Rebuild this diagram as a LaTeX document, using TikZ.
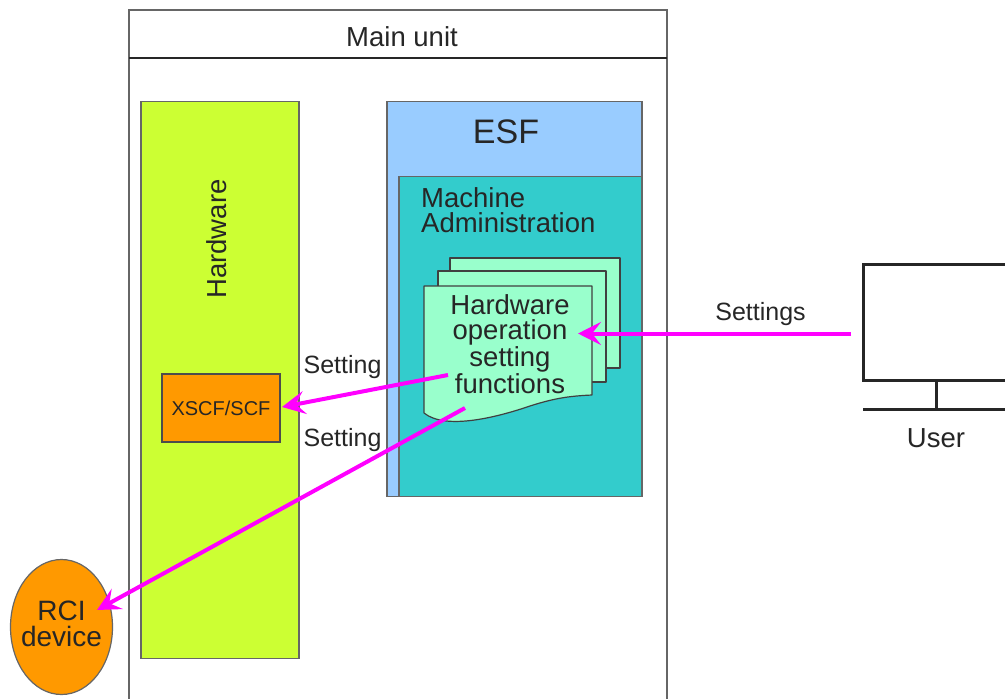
\documentclass[tikz,border=0pt]{standalone}
\usepackage{fontspec}
\setmainfont{Liberation Sans}
\usetikzlibrary{shapes.geometric,arrows.meta}
\definecolor{hwgreen}{HTML}{CCFF33}
\definecolor{esfblue}{HTML}{99CCFF}
\definecolor{mateal}{HTML}{33CCCC}
\definecolor{docmint}{HTML}{99FFCC}
\definecolor{devorange}{HTML}{FF9900}
\definecolor{linegray}{HTML}{666666}
\definecolor{arrowpink}{HTML}{FF00FF}
\tikzset{
  panel/.style={draw=linegray,line width=1.2pt},
  docsheet/.style={draw=black!75,line width=1.2pt,fill=docmint,line join=round},
  pinkarrow/.style={draw=arrowpink,line width=4pt,-{Stealth[length=23pt,width=23pt,inset=9pt]}},
  txt/.style={inner sep=0pt,align=center,text=black!85,font=\fontsize{27.5}{27}\selectfont},
  smalltxt/.style={inner sep=0pt,align=center,text=black!85,font=\fontsize{25}{26}\selectfont},
  monitorline/.style={draw=black!85,line width=3pt},
}
\begin{document}
\begin{tikzpicture}[x=1pt,y=-1pt]
\useasboundingbox (0,0) rectangle (1005,699);
\begin{scope}
\clip (0,0) rectangle (1005,699);
\fill[white] (0,0) rectangle (1005,699);
% main unit
\draw[draw=linegray,line width=2.2pt] (129,720) -- (129,10) -- (667,10) -- (667,720);
\draw[draw=black!85,line width=2.5pt] (129,58) -- (667,58);
\node[txt] (mainlabel) at (402,37) {Main unit};
% hardware
\node[panel,fill=hwgreen,minimum width=158pt,minimum height=557pt,inner sep=0pt] (hw) at (220,380) {};
\node[txt,rotate=90] (hwlabel) at (217,239) {Hardware};
\node[draw=black!70,line width=1.2pt,fill=devorange,minimum width=118pt,minimum height=68pt,inner sep=0pt,text=black!85,font=\fontsize{20}{22}\selectfont] (xscf) at (221,408) {XSCF/SCF};
% ESF
\node[panel,fill=esfblue,minimum width=255pt,minimum height=395pt,inner sep=0pt] (esf) at (514.5,299) {};
\node[inner sep=0pt,text=black!85,font=\fontsize{34}{36}\selectfont] (esflabel) at (506,132) {ESF};
\node[panel,fill=mateal,minimum width=243pt,minimum height=320pt,inner sep=0pt] (ma) at (520.5,336.5) {};
\node[txt,align=left,anchor=north west,font=\fontsize{27.5}{25}\selectfont] (malabel) at (421,187) {Machine\\Administration};
% document stack
\draw[docsheet] (450,258) -- (620,258) -- (620,368) -- (450,368) -- cycle;
\draw[docsheet] (438,271) -- (606,271) -- (606,382) -- (438,382) -- cycle;
\draw[docsheet] (424,286) -- (592,286) -- (592,395)
  .. controls (570,396) and (555,398) .. (530,406)
  .. controls (495,418) and (445,430) .. (424,413) -- cycle;
\node[txt,font=\fontsize{27.5}{25.5}\selectfont] (doclabel) at (510,344) {Hardware\\operation\\setting\\functions};
% monitor
\draw[monitorline] (1040,264) -- (863,264) -- (863,380) -- (1040,380);
\draw[monitorline] (936,380) -- (936,409);
\draw[draw=black!85,line width=2.5pt] (863,409.5) -- (1040,409.5);
\node[txt] (userlabel) at (936,438) {User};
\node[smalltxt] (settingslabel) at (760.5,314) {Settings};
% RCI
\node[draw=linegray,line width=1.2pt,fill=devorange,ellipse,minimum width=102pt,minimum height=135pt,inner sep=0pt] (rci) at (61.5,627) {};
\node[txt,font=\fontsize{28}{26.5}\selectfont] (rcilabel) at (61.5,624) {RCI\\device};
% labels
\node[smalltxt] (set1) at (342.5,367) {Setting};
\node[smalltxt] (set2) at (342.5,440) {Setting};
% connectors
\coordinate (userend) at (851,333.5);
\coordinate (fa) at (578,333.5);
\coordinate (fb) at (448,375);
\coordinate (xa) at (282,407);
\coordinate (fc) at (465,408);
\coordinate (ra) at (97,610);
\draw[pinkarrow] (userend) -- (fa);
\draw[pinkarrow] (fb) -- (xa);
\draw[pinkarrow] (fc) -- (ra);
\end{scope}
\end{tikzpicture}
\end{document}
